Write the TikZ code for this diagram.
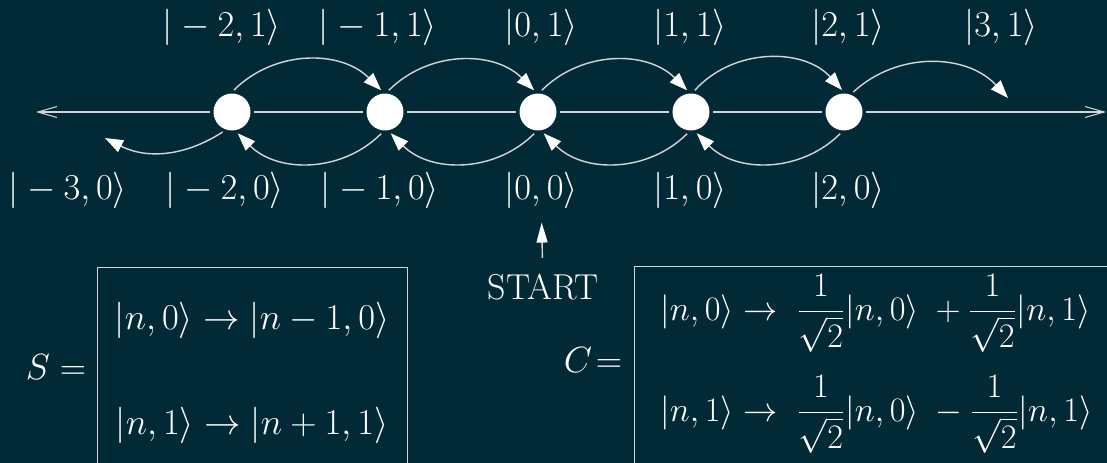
\RequirePackage{fix-cm}
\documentclass[tikz,border=0pt]{standalone}
\usepackage{amsmath}
\usepackage{xcolor}
\definecolor{walkbg}{HTML}{022A36}
\definecolor{walkline}{HTML}{D2D6D8}
\usepackage{tikz}
\usetikzlibrary{arrows.meta,positioning}

\begin{document}
\begin{tikzpicture}[
  x=0.02cm,y=-0.02cm,
  node distance=2.18cm,
  every node/.style={text=white,font=\fontsize{20.74}{25}\selectfont},
  site/.style={circle,fill=white,minimum size=0.74cm,inner sep=0pt,outer sep=2pt},
  ket/.style={inner sep=0pt},
  axis/.style={draw=walkline,line width=0.6pt},
  hop/.style={draw=walkline,line width=0.8pt,-{Triangle[length=0.36cm,width=0.26cm,color=white]}},
  opbox/.style={draw=walkline,line width=0.6pt,anchor=north west,minimum height=7cm},
]
\path[use as bounding box,fill=walkbg] (0,0) rectangle (1107,463);
\clip (0,0) rectangle (1107,463);

% Lattice sites
\node[site] at (232,112) (c1) {};
\node[site,right=of c1] (c2) {};
\node[site,right=of c2] (c3) {};
\node[site,right=of c3] (c4) {};
\node[site,right=of c4] (c5) {};
\coordinate (axisW) at (36,112);
\coordinate (axisE) at (1106,112);
\coordinate (tipW) at (105,138);
\coordinate (tipE) at (1008,98);

% Axis
\draw[axis,-{Straight Barb[length=0.38cm,width=0.22cm]}] (c1) -- (axisW);
\draw[axis] (c1) -- (c2);
\draw[axis] (c2) -- (c3);
\draw[axis] (c3) -- (c4);
\draw[axis] (c4) -- (c5);
\draw[axis,-{Straight Barb[length=0.38cm,width=0.22cm]}] (c5) -- (axisE);

% Coin state 1 moves right
\draw[hop] (c1.85) to[bend left=45] (c2.100);
\draw[hop] (c2.80) to[bend left=45] (c3.100);
\draw[hop] (c3.80) to[bend left=45] (c4.100);
\draw[hop] (c4.80) to[bend left=48] (c5.95);
\draw[hop] (c5.65) to[bend left=45] (tipE);

% Coin state 0 moves left
\draw[hop] (c2.-100) to[bend left=45] (c1.-75);
\draw[hop] (c3.-100) to[bend left=45] (c2.-75);
\draw[hop] (c4.-100) to[bend left=45] (c3.-75);
\draw[hop] (c5.-100) to[bend left=45] (c4.-75);
\draw[hop] (c1.-115) to[bend left=30] (tipW);

% Labels
\node[ket] at (222,27) (tm2) {$|-2,1\rangle$};
\node[ket] at (378,27) (tm1) {$|-1,1\rangle$};
\node[ket] at (541,27) (t0) {$|0,1\rangle$};
\node[ket] at (690,27) (t1) {$|1,1\rangle$};
\node[ket] at (848,27) (t2) {$|2,1\rangle$};
\node[ket] at (1001,27) (t3) {$|3,1\rangle$};
\node[ket] at (68,190) (bm3) {$|-3,0\rangle$};
\node[ket] at (225,190) (bm2) {$|-2,0\rangle$};
\node[ket] at (380,190) (bm1) {$|-1,0\rangle$};
\node[ket] at (541,190) (b0) {$|0,0\rangle$};
\node[ket] at (690,190) (b1) {$|1,0\rangle$};
\node[ket] at (848,190) (b2) {$|2,0\rangle$};

% Start
\node at (543,287) (start) {\fontsize{20.5}{25}\selectfont START};
\draw[walkline,line width=0.8pt,-{Triangle[length=0.4cm,width=0.22cm,color=white]},
  shorten <=0.2cm,shorten >=0.28cm] (start) -- (b0);

% Shift operator
\node at (56,367) (sop) {$S=$};
\node[opbox,minimum width=6.2cm] at (97,267) (sbox) {};
\node[ket] at (252,320) (srow0) {$|n,0\rangle\rightarrow|n-1,0\rangle$};
\node[ket] at (252,425) (srow1) {$|n,1\rangle\rightarrow|n+1,1\rangle$};

% Coin operator
\node at (593,360) (cop) {$C\!=$};
\node[opbox,minimum width=10cm] at (634,266) (cbox) {};
\node[ket,anchor=base west,font=\fontsize{19.5}{23}\selectfont] at (660,320) (crow0)
  {$|n,0\rangle\rightarrow\;\dfrac{1}{\sqrt{2}}|n,0\rangle\;+\dfrac{1}{\sqrt{2}}|n,1\rangle$};
\node[ket,anchor=base west,font=\fontsize{19.5}{23}\selectfont] at (660,421) (crow1)
  {$|n,1\rangle\rightarrow\;\dfrac{1}{\sqrt{2}}|n,0\rangle\;-\dfrac{1}{\sqrt{2}}|n,1\rangle$};
\end{tikzpicture}
\end{document}
